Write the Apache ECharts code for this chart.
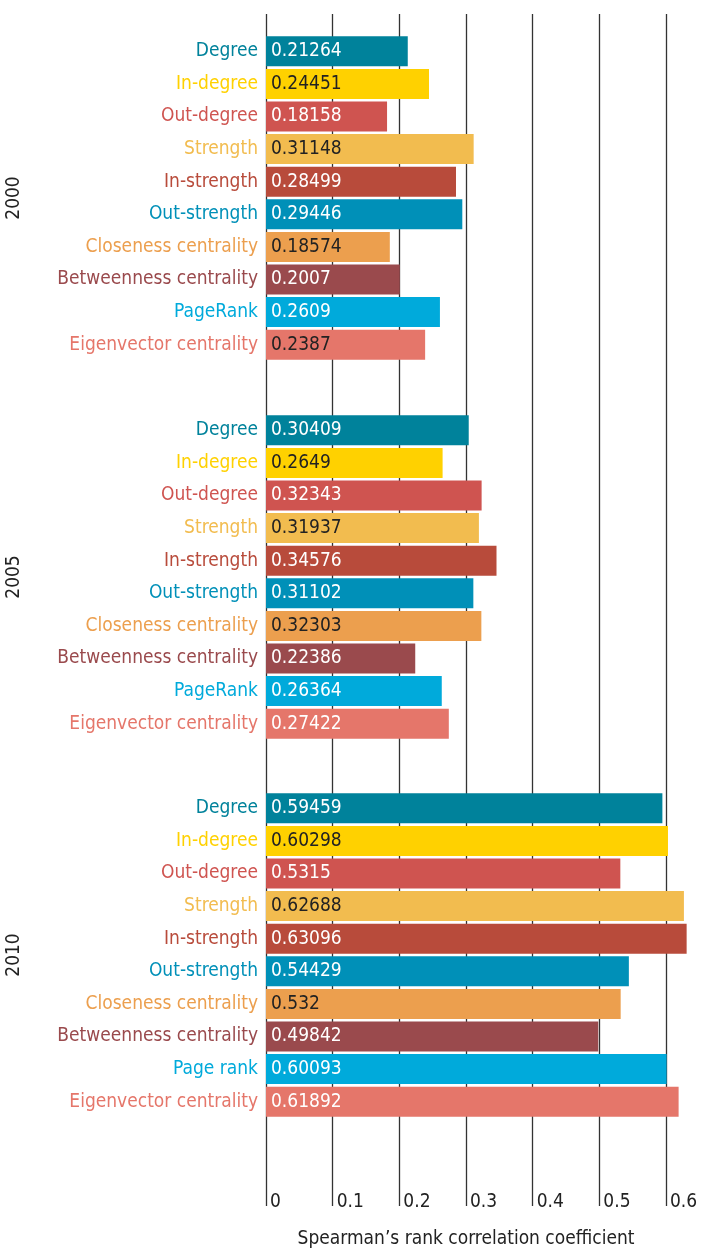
<!DOCTYPE html>
<html>
<head>
<meta charset="utf-8">
<script src="https://cdn.jsdelivr.net/npm/echarts@6/dist/echarts.min.js"></script>
<style>
  html, body { margin: 0; padding: 0; background: #fff; }
  #chart { width: 701px; height: 1249px; }
</style>
</head>
<body>
<div id="chart"></div>
<script>
// categories per year group
const labels2000 = ['Degree', 'In-degree', 'Out-degree', 'Strength', 'In-strength', 'Out-strength',
  'Closeness centrality', 'Betweenness centrality', 'PageRank', 'Eigenvector centrality'];
const labels2005 = labels2000.slice();
const labels2010 = ['Degree', 'In-degree', 'Out-degree', 'Strength', 'In-strength', 'Out-strength',
  'Closeness centrality', 'Betweenness centrality', 'Page rank', 'Eigenvector centrality'];

const years = ['2000', '2005', '2010'];

const values2000 = [0.21264, 0.24451, 0.18158, 0.31148, 0.28499, 0.29446, 0.18574, 0.2007, 0.2609, 0.2387];
const values2005 = [0.30409, 0.2649, 0.32343, 0.31937, 0.34576, 0.31102, 0.32303, 0.22386, 0.26364, 0.27422];
const values2010 = [0.59459, 0.60298, 0.5315, 0.62688, 0.63096, 0.54429, 0.532, 0.49842, 0.60093, 0.61892];

const xTicks = ['0', '0.1', '0.2', '0.3', '0.4', '0.5', '0.6'];

// styles
const barColors = ['#00829b', '#ffd100', '#cf5450', '#f2bc4f', '#b84b3b', '#0090b8',
  '#ec9f4e', '#9a4a4d', '#00aadb', '#e5766a'];
const darkText = '#222';
const labelInk = [
  ['#fff', darkText, '#fff', darkText, '#fff', '#fff', darkText, '#fff', '#fff', darkText],
  ['#fff', darkText, '#fff', darkText, '#fff', '#fff', darkText, '#fff', '#fff', '#fff'],
  ['#fff', darkText, '#fff', darkText, '#fff', '#fff', darkText, '#fff', '#fff', '#fff']
];
const FONT = '"Liberation Sans Narrow", "DejaVu Sans Condensed", sans-serif';

const groups = [
  { year: years[0], labels: labels2000, values: values2000, top: 35 },
  { year: years[1], labels: labels2005, values: values2005, top: 414 },
  { year: years[2], labels: labels2010, values: values2010, top: 792 }
];

const chart = echarts.init(document.getElementById('chart'));

// background grid: just the vertical lines, tick labels and axis title
const grid = [{ left: 266, width: 400, top: 14, bottom: 43, containLabel: false, outerBoundsMode: 'none' }];
const xAxis = [{
  gridIndex: 0, type: 'value', min: 0, max: 0.6, interval: 0.1,
  axisLine: { show: false }, axisTick: { show: false },
  splitLine: { show: true, lineStyle: { color: '#333', width: 1.3 } },
  axisLabel: {
    inside: true, margin: -6, align: 'left', padding: [0, 0, 0, 4],
    fontFamily: FONT, fontSize: 19, color: darkText,
    formatter: (v) => xTicks[Math.round(v * 10)]
  },
  name: 'Spearman\u2019s rank correlation coefficient',
  nameLocation: 'middle', nameGap: 24,
  nameTextStyle: { fontFamily: FONT, fontSize: 19, color: darkText }
}];
const yAxis = [{ gridIndex: 0, type: 'value', show: false }];
const series = [];

groups.forEach((g, i) => {
  const gi = i + 1;
  // 0.645 over 430px keeps the same scale as the background grid
  grid.push({ left: 266, width: 430, top: g.top, height: 326, containLabel: false, outerBoundsMode: 'none' });
  xAxis.push({ gridIndex: gi, type: 'value', min: 0, max: 0.645, show: false });
  yAxis.push({
    gridIndex: gi, type: 'category', inverse: true, data: g.labels,
    axisLine: { show: false }, axisTick: { show: false },
    axisLabel: {
      margin: 8, fontFamily: FONT, fontSize: 19,
      color: (val, idx) => barColors[idx]
    },
    name: g.year, nameLocation: 'middle', nameRotate: 90, nameGap: 242,
    nameTextStyle: { fontFamily: FONT, fontSize: 19, color: darkText }
  });
  series.push({
    type: 'bar', xAxisIndex: gi, yAxisIndex: gi, barWidth: 30,
    data: g.values.map((v, k) => ({
      value: v,
      itemStyle: { color: barColors[k] },
      label: { color: labelInk[i][k] }
    })),
    label: {
      show: true, position: 'insideLeft', distance: 5,
      fontFamily: FONT, fontSize: 19,
      formatter: (p) => String(p.value)
    },
    silent: true
  });
});

chart.setOption({
  animation: false,
  grid: grid,
  xAxis: xAxis,
  yAxis: yAxis,
  series: series
});
</script>
</body>
</html>
